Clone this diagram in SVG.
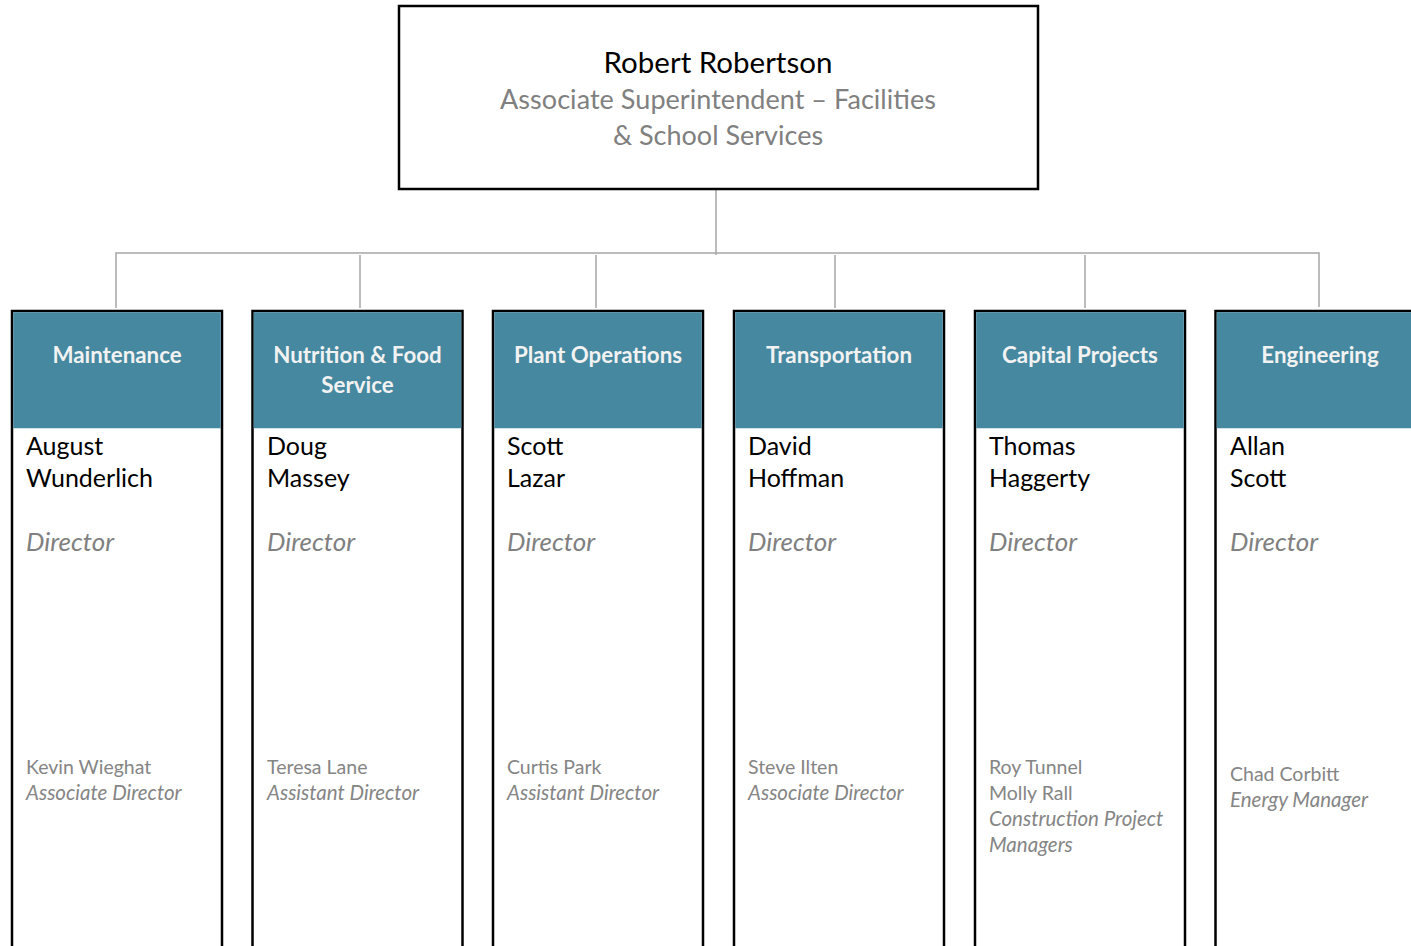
<svg xmlns="http://www.w3.org/2000/svg" width="1411" height="946" viewBox="0 0 1411 946">
<style>
text{font-family:Lato,"Open Sans","Liberation Sans",sans-serif}
.top{fill:#ffffff;stroke:#000000;stroke-width:2.5}
.col{fill:#ffffff;stroke:#000000;stroke-width:2.5}
.hdr{fill:#45889f}
.ht{font-size:22.3px;font-weight:bold;fill:#f2f2f2;text-anchor:middle}
.boss{font-size:29.5px;fill:#000000;text-anchor:middle}
.bt{font-size:27px;fill:#808080;text-anchor:middle}
.nm{font-size:25px;fill:#000000}
.dir{font-size:26px;font-style:italic;fill:#808080}
.sub{font-size:19.5px;fill:#858585}
.subi{font-size:20.5px;fill:#858585;font-style:italic}
.ln{stroke:#a6a6a6;stroke-width:1.5;fill:none}
</style>
<rect width="1411" height="946" fill="#ffffff"/>
<g id="connectors">
<path class="ln" d="M716 189V255"/>
<path class="ln" d="M116 308V253H1319V307"/>
<path class="ln" d="M360 255V308"/>
<path class="ln" d="M596 255V308"/>
<path class="ln" d="M835 255V308"/>
<path class="ln" d="M1085 255V308"/>
</g>
<g id="robert-robertson">
<rect class="top" x="399" y="6" width="639" height="183"/>
<text class="boss" x="718" y="73">Robert Robertson</text>
<text class="bt" x="718" y="109" textLength="436" lengthAdjust="spacing">Associate Superintendent – Facilities</text>
<text class="bt" x="718" y="145">&amp; School Services</text>
</g>
<g id="maintenance">
<rect class="col" x="12" y="311" width="210" height="660"/>
<rect class="hdr" x="13.25" y="312.25" width="207.5" height="116"/>
<text class="ht" x="117" y="363">Maintenance</text>
<text class="nm" x="26" y="455">August</text>
<text class="nm" x="26" y="487">Wunderlich</text>
<text class="dir" x="26" y="551">Director</text>
<text class="sub" x="26" y="774">Kevin Wieghat</text>
<text class="subi" x="26" y="800">Associate Director</text>
</g>
<g id="nutrition">
<rect class="col" x="252.5" y="311" width="210" height="660"/>
<rect class="hdr" x="253.75" y="312.25" width="207.5" height="116"/>
<text class="ht" x="357.5" y="363">Nutrition &amp; Food</text>
<text class="ht" x="357.5" y="393">Service</text>
<text class="nm" x="267" y="455">Doug</text>
<text class="nm" x="267" y="487">Massey</text>
<text class="dir" x="267" y="551">Director</text>
<text class="sub" x="267" y="774">Teresa Lane</text>
<text class="subi" x="267" y="800">Assistant Director</text>
</g>
<g id="plant-operations">
<rect class="col" x="493" y="311" width="210" height="660"/>
<rect class="hdr" x="494.25" y="312.25" width="207.5" height="116"/>
<text class="ht" x="598" y="363">Plant Operations</text>
<text class="nm" x="507" y="455">Scott</text>
<text class="nm" x="507" y="487">Lazar</text>
<text class="dir" x="507" y="551">Director</text>
<text class="sub" x="507" y="774">Curtis Park</text>
<text class="subi" x="507" y="800">Assistant Director</text>
</g>
<g id="transportation">
<rect class="col" x="734" y="311" width="210" height="660"/>
<rect class="hdr" x="735.25" y="312.25" width="207.5" height="116"/>
<text class="ht" x="839" y="363">Transportation</text>
<text class="nm" x="748" y="455">David</text>
<text class="nm" x="748" y="487">Hoffman</text>
<text class="dir" x="748" y="551">Director</text>
<text class="sub" x="748" y="774">Steve Ilten</text>
<text class="subi" x="748" y="800">Associate Director</text>
</g>
<g id="capital-projects">
<rect class="col" x="975" y="311" width="210" height="660"/>
<rect class="hdr" x="976.25" y="312.25" width="207.5" height="116"/>
<text class="ht" x="1080" y="363">Capital Projects</text>
<text class="nm" x="989" y="455">Thomas</text>
<text class="nm" x="989" y="487">Haggerty</text>
<text class="dir" x="989" y="551">Director</text>
<text class="sub" x="989" y="774">Roy Tunnel</text>
<text class="sub" x="989" y="800">Molly Rall</text>
<text class="subi" x="989" y="826">Construction Project</text>
<text class="subi" x="989" y="852">Managers</text>
</g>
<g id="engineering">
<rect class="col" x="1215.5" y="311" width="210" height="660"/>
<rect class="hdr" x="1216.75" y="312.25" width="207.5" height="116"/>
<text class="ht" x="1320" y="363">Engineering</text>
<text class="nm" x="1230" y="455">Allan</text>
<text class="nm" x="1230" y="487">Scott</text>
<text class="dir" x="1230" y="551">Director</text>
<text class="sub" x="1230" y="781">Chad Corbitt</text>
<text class="subi" x="1230" y="807">Energy Manager</text>
</g>
</svg>
